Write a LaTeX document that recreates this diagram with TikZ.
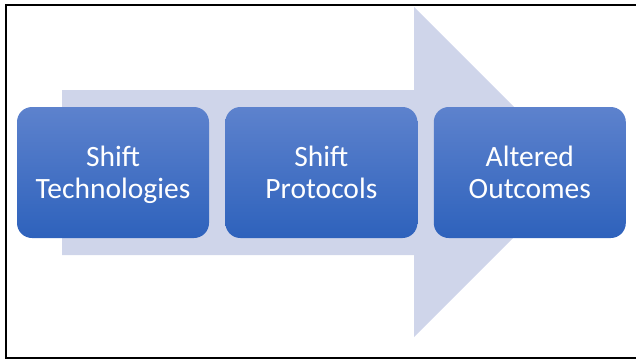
\documentclass[tikz,border=0pt]{standalone}
\usepackage{fontspec}
\setmainfont{Carlito}
\usetikzlibrary{positioning}

\definecolor{flowbg}{RGB}{207,213,234}
\definecolor{stagetop}{RGB}{93,130,205}
\definecolor{stagebot}{RGB}{46,98,188}

\tikzset{
  stage/.style={rectangle, rounded corners=15pt, minimum width=192pt, minimum height=131pt,
    inner sep=0pt, top color=stagetop, bottom color=stagebot, text=white, align=center,
    font=\fontsize{29.5}{32}\selectfont, text height=57pt, text depth=6pt}
}

\begin{document}
\begin{tikzpicture}[x=1pt, y=-1pt]
		  \useasboundingbox (0,0) rectangle (636,360);

		  % Frame
		  \draw[line width=2.5pt] (640,5) -- (6,5) -- (6,358) -- (640,358);

		  % Big arrow behind the stages
		  \fill[flowbg] (62,90) -- (414,90) -- (414,7) -- (579,172) -- (414,337) -- (414,255) -- (62,255) -- cycle;

		  % Nodes
		  \node[stage] (tech) at (113,172.5) {Shift\\Technologies};
		  \node[stage, right=16pt of tech] (proto) {Shift\\Protocols};
		  \node[stage, right=16pt of proto] (outcome) {Altered\\Outcomes};
		\end{tikzpicture}
\end{document}
